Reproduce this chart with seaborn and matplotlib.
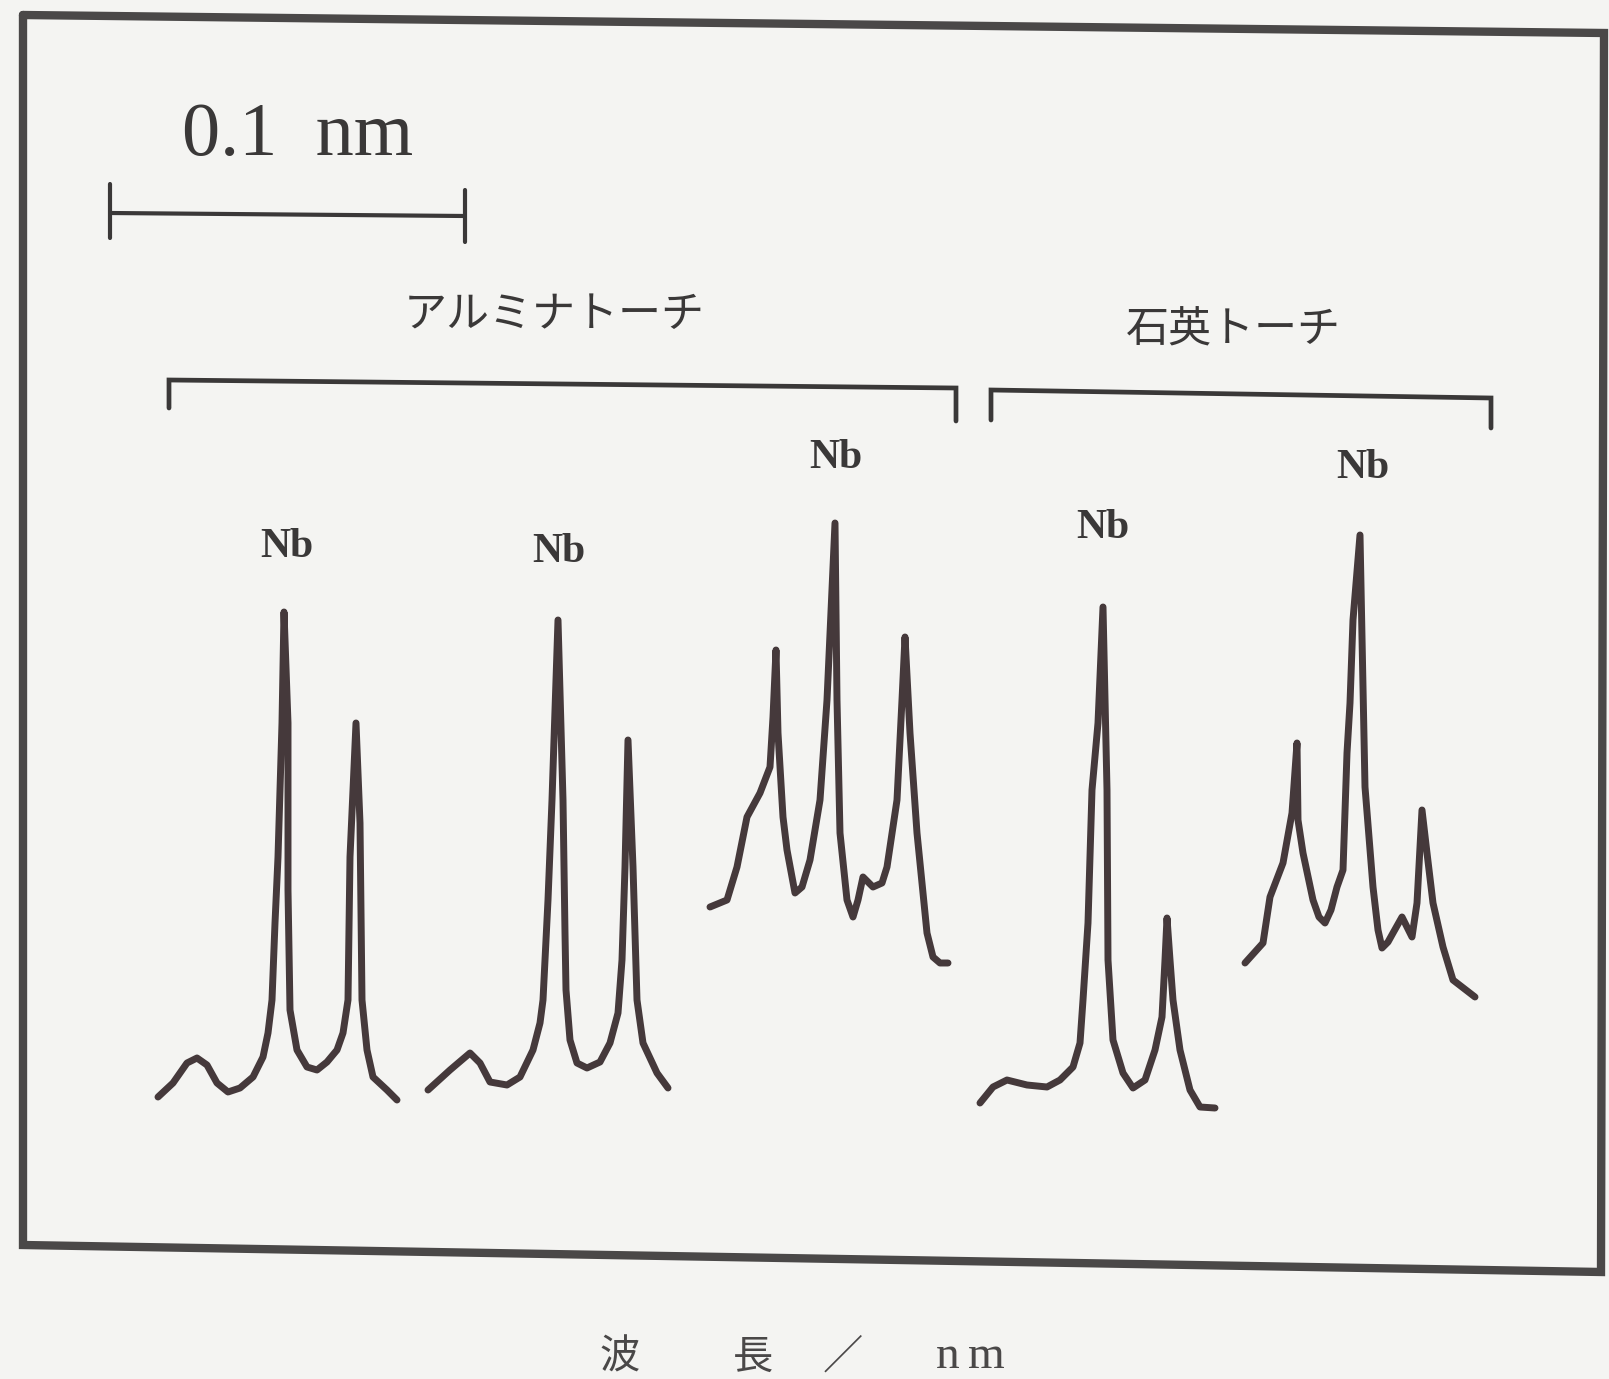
import matplotlib
matplotlib.use("Agg")
import matplotlib.pyplot as plt
import seaborn as sns
import pandas as pd

sns.set_theme(style="white")
plt.rcParams['font.family'] = ['Noto Sans CJK JP', 'DejaVu Sans']

# ---- data (x = wavelength position, y = signal level, image units) ----
alumina_1_x = [158, 173, 187, 197, 207, 217, 228, 240, 253, 263, 268, 272, 275, 278, 282, 284, 288, 288, 290, 297, 307, 317, 327, 337, 343, 348, 350, 356, 360, 362, 367, 373, 387, 397]
alumina_1_y = [1097, 1083, 1063, 1058, 1065, 1083, 1092, 1088, 1077, 1057, 1033, 1000, 923, 857, 723, 612, 723, 890, 1010, 1050, 1067, 1070, 1062, 1050, 1033, 1000, 857, 723, 823, 1000, 1050, 1077, 1090, 1100]

alumina_2_x = [428, 450, 470, 480, 490, 507, 520, 533, 540, 543, 548, 552, 558, 563, 565, 566, 570, 577, 587, 600, 610, 618, 622, 625, 628, 633, 637, 643, 657, 668]
alumina_2_y = [1090, 1070, 1053, 1063, 1082, 1085, 1077, 1050, 1023, 1000, 900, 800, 620, 800, 933, 990, 1040, 1063, 1068, 1062, 1043, 1013, 960, 867, 740, 867, 1000, 1043, 1073, 1088]

alumina_3_x = [710, 727, 737, 747, 760, 770, 773, 776, 778, 783, 787, 795, 802, 810, 820, 827, 835, 837, 840, 847, 853, 858, 863, 873, 882, 887, 897, 902, 905, 910, 917, 927, 933, 940, 948]
alumina_3_y = [907, 900, 867, 817, 793, 767, 717, 650, 733, 817, 850, 893, 887, 860, 800, 700, 523, 700, 833, 900, 917, 900, 877, 887, 883, 867, 800, 700, 637, 733, 833, 933, 957, 963, 963]

quartz_1_x = [980, 993, 1007, 1027, 1047, 1060, 1073, 1080, 1083, 1088, 1092, 1098, 1103, 1107, 1108, 1113, 1123, 1133, 1145, 1155, 1162, 1165, 1167, 1170, 1173, 1180, 1190, 1200, 1215]
quartz_1_y = [1103, 1087, 1080, 1085, 1087, 1080, 1067, 1043, 1000, 923, 790, 723, 607, 790, 960, 1040, 1073, 1088, 1080, 1050, 1017, 960, 918, 960, 1000, 1050, 1090, 1107, 1108]

quartz_2_x = [1245, 1263, 1270, 1283, 1292, 1297, 1298, 1303, 1313, 1319, 1325, 1331, 1337, 1343, 1347, 1350, 1353, 1360, 1362, 1365, 1373, 1378, 1382, 1388, 1393, 1402, 1412, 1417, 1422, 1427, 1433, 1443, 1453, 1475]
quartz_2_y = [963, 943, 897, 863, 813, 743, 820, 853, 900, 917, 923, 910, 887, 870, 753, 703, 620, 535, 637, 787, 887, 930, 948, 942, 933, 917, 937, 903, 810, 853, 903, 947, 980, 997]

trace_names = ["alumina_1", "alumina_2", "alumina_3", "quartz_1", "quartz_2"]
trace_xs = [alumina_1_x, alumina_2_x, alumina_3_x, quartz_1_x, quartz_2_x]
trace_ys = [alumina_1_y, alumina_2_y, alumina_3_y, quartz_1_y, quartz_2_y]

peak_label = "Nb"
peak_label_x = [287, 559, 836, 1103, 1363]
peak_label_y = [547, 552, 458, 528, 468]

group_labels = ["アルミナトーチ", "石英トーチ"]
group_label_x = [554, 1233]
group_label_y = [315, 331]
group_left = [169, 991]
group_right = [956, 1491]
group_top_left = [380, 390]
group_top_right = [388, 398]
group_tick_left = [408, 420]
group_tick_right = [421, 428]

scale_text = "0.1  nm"
scale_left, scale_right, scale_y = 110, 465, 213

frame_x = [23, 1604, 1601, 23, 23]
frame_y = [15, 33, 1272, 1245, 15]

xlabel_parts = ["波", "長", "／", "n", "m"]
xlabel_x = [620, 753, 843, 948, 986]
xlabel_y = 1357

# ---- figure ----
W, H = 1609, 1379
fig = plt.figure(figsize=(W / 100, H / 100), dpi=100)
fig.patch.set_facecolor('#f4f4f2')
ax = fig.add_axes([0, 0, 1, 1])
ax.set_facecolor('#f4f4f2')
ax.set_xlim(0, W)
ax.set_ylim(H, 0)
ax.axis('off')

ink = '#45393b'
serif = ['Liberation Serif', 'DejaVu Serif']

rows = []
for name, xs, ys in zip(trace_names, trace_xs, trace_ys):
    for x, y in zip(xs, ys):
        rows.append({"trace": name, "x": x, "y": y})
df = pd.DataFrame(rows)
sns.lineplot(data=df, x='x', y='y', units='trace', estimator=None, sort=False,
             color=ink, linewidth=5.0, ax=ax, legend=False,
             solid_capstyle='round', solid_joinstyle='round')

# frame
ax.plot(frame_x, frame_y, color='#4a4848', linewidth=6, solid_joinstyle='miter')

# scale bar
ax.plot([scale_left, scale_right], [scale_y, scale_y + 3], color='#3a3838', linewidth=3)
ax.plot([scale_left, scale_left], [184, 238], color='#3a3838', linewidth=3)
ax.plot([scale_right, scale_right], [190, 242], color='#3a3838', linewidth=3)
ax.text(298, 136, scale_text, ha='center', va='center', fontsize=55,
        family=serif, color='#3a3838')

# brackets and group labels
for i, lab in enumerate(group_labels):
    xl, xr = group_left[i], group_right[i]
    ax.plot([xl, xl, xr, xr],
            [group_tick_left[i], group_top_left[i], group_top_right[i], group_tick_right[i]],
            color='#3a3838', linewidth=3.4, solid_joinstyle='miter')
    ax.text(group_label_x[i], group_label_y[i], lab, ha='center', va='center',
            fontsize=31, color='#3a3838')

# peak labels
for x, y in zip(peak_label_x, peak_label_y):
    ax.text(x, y, peak_label, ha='center', va='center', fontsize=30,
            family=serif, fontweight='bold', color='#3a3838')

# axis label
for t, x in zip(xlabel_parts, xlabel_x):
    fam = serif if t in ("n", "m") else ['Noto Sans CJK JP', 'DejaVu Sans']
    size = 34 if t in ("n", "m") else 29
    ax.text(x, xlabel_y, t, ha='center', va='center', fontsize=size, color='#4a4848',
            family=fam)

fig.savefig('out.png', dpi=100, facecolor=fig.get_facecolor())
